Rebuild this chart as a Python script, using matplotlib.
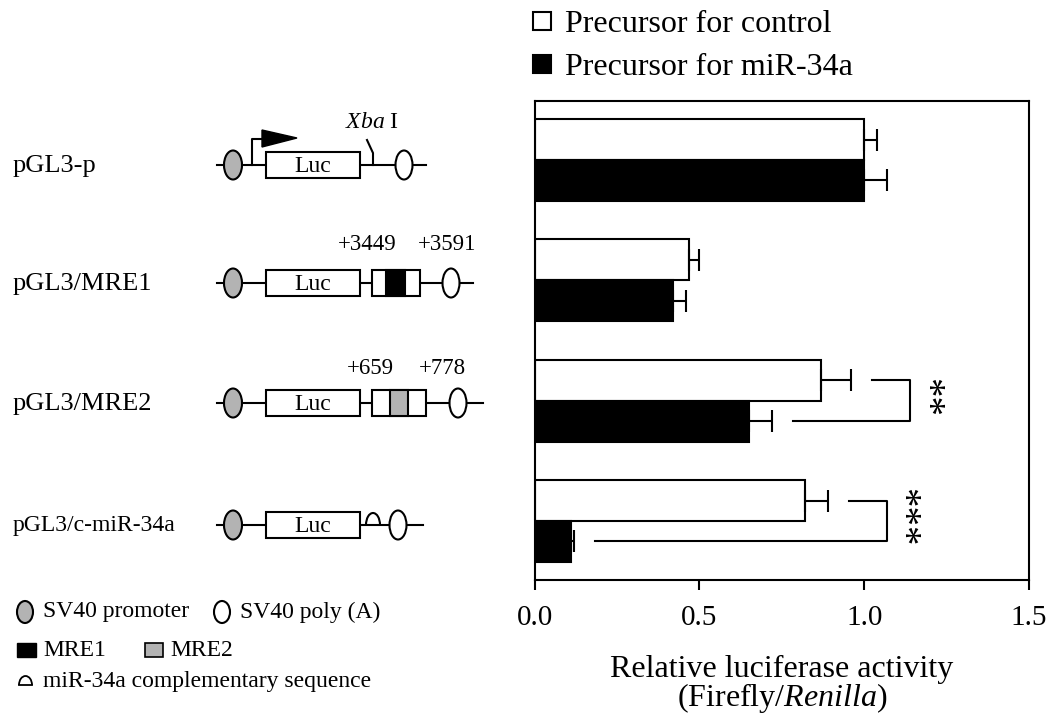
import matplotlib
matplotlib.use("Agg")
import matplotlib.pyplot as plt
from matplotlib.patches import Ellipse, Rectangle, Polygon, Arc
import numpy as np

plt.rcParams["font.family"] = ["Liberation Serif", "DejaVu Serif"]
plt.rcParams["mathtext.fontset"] = "custom"
plt.rcParams["mathtext.rm"] = "Liberation Serif"
plt.rcParams["mathtext.it"] = "Liberation Serif:italic"

# data
constructs = ["pGL3-p", "pGL3/MRE1", "pGL3/MRE2", "pGL3/c-miR-34a"]
series = ["Precursor for control", "Precursor for miR-34a"]
ctrl_mean = [1.00, 0.47, 0.87, 0.82]
ctrl_err = [0.04, 0.03, 0.09, 0.07]
mir_mean = [1.00, 0.42, 0.65, 0.11]
mir_err = [0.07, 0.04, 0.07, 0.01]
xticks = [0.0, 0.5, 1.0, 1.5]
sig_rows = [2, 3]
sig_stars = ["**", "***"]

LW = 1.5
W, H = 1051, 716
fig = plt.figure(figsize=(W / 100, H / 100), dpi=100)

# ---- schematic of the constructs (drawn in pixel coords) ----
dg = fig.add_axes([0, 0, 1, 1])
dg.set_xlim(0, W)
dg.set_ylim(H, 0)
dg.axis("off")

row_y = [165, 283, 403, 525]
line_end = [426, 473, 483, 423]
polya_x = [404, 451, 458, 398]
label_size = [19, 19, 19, 17]


def ellipse(x, y, w, h, fc):
    dg.add_patch(Ellipse((x, y), w, h, fc=fc, ec="black", lw=LW, zorder=3))


def box(x0, x1, y, h, fc="white"):
    dg.add_patch(Rectangle((x0, y - h / 2), x1 - x0, h, fc=fc, ec="black", lw=LW, zorder=3))


for i, name in enumerate(constructs):
    y = row_y[i]
    dg.text(13, y + 1, name, fontsize=label_size[i], va="center", ha="left")
    dg.plot([217, line_end[i]], [y, y], color="black", lw=LW, zorder=2)
    ellipse(233, y, 18, 29, "#b3b3b3")
    ellipse(polya_x[i], y, 17, 29, "white")
    box(266, 360, y, 26)
    dg.text(313, y + 1, "Luc", fontsize=17, ha="center", va="center", zorder=4)

# pGL3-p: promoter arrow and Xba I site
y = row_y[0]
dg.plot([252, 252, 262], [y, 139, 139], color="black", lw=LW, zorder=2)
dg.add_patch(Polygon([(262, 130), (262, 147), (297, 138)], closed=True, fc="black", ec="black", lw=1, zorder=3))
dg.plot([367, 373, 373], [140, 153, y], color="black", lw=LW, zorder=2)
dg.text(372, 123, r"$\mathit{Xba}$ I", fontsize=17, ha="center", va="center")

# MRE1 insert
y = row_y[1]
box(372, 420, y, 26)
box(386, 405, y, 26, fc="black")
dg.text(367, 245, "+3449", fontsize=16.5, ha="center", va="center")
dg.text(447, 245, "+3591", fontsize=16.5, ha="center", va="center")

# MRE2 insert
y = row_y[2]
box(372, 426, y, 26)
box(390, 408, y, 26, fc="#b3b3b3")
dg.text(370, 369, "+659", fontsize=16.5, ha="center", va="center")
dg.text(442, 369, "+778", fontsize=16.5, ha="center", va="center")

# c-miR-34a complementary sequence
y = row_y[3]
dg.add_patch(Arc((373, y), 14, 24, theta1=180, theta2=360, color="black", lw=LW, zorder=3))

# key of the schematic
ellipse(25, 612, 16, 22, "#b3b3b3")
dg.text(43, 612, "SV40 promoter", fontsize=17, va="center")
ellipse(222, 612, 16, 22, "white")
dg.text(240, 612, "SV40 poly (A)", fontsize=17, va="center")
dg.add_patch(Rectangle((17, 643), 19, 14, fc="black", ec="black", lw=1))
dg.text(43, 650, "MRE1", fontsize=17, va="center")
dg.add_patch(Rectangle((145, 643), 18, 14, fc="#b3b3b3", ec="black", lw=1.2))
dg.text(170, 650, "MRE2", fontsize=17, va="center")
dg.add_patch(Arc((25.5, 685), 13, 18, theta1=180, theta2=360, color="black", lw=1.3))
dg.plot([19, 32], [685, 685], color="black", lw=1.3)
dg.text(43, 682, "miR-34a complementary sequence", fontsize=17, va="center")

# ---- bar chart ----
ax = fig.add_axes([534.5 / W, 1 - 580 / H, (1029 - 534.5) / W, (580 - 101) / H])
pos = np.arange(len(constructs))
h = 0.34
zeros = np.zeros(len(pos))

b1 = ax.barh(pos - h / 2, ctrl_mean, height=h, color="white", edgecolor="black", lw=LW, label=series[0])
b2 = ax.barh(pos + h / 2, mir_mean, height=h, color="black", edgecolor="black", lw=LW, label=series[1])
ax.errorbar(ctrl_mean, pos - h / 2, xerr=[zeros, ctrl_err], fmt="none", ecolor="black",
            elinewidth=LW, capsize=8, capthick=LW)
ax.errorbar(mir_mean, pos + h / 2, xerr=[zeros, mir_err], fmt="none", ecolor="black",
            elinewidth=LW, capsize=8, capthick=LW)

# significance brackets, stars stacked vertically
for r, stars in zip(sig_rows, sig_stars):
    top_end = ctrl_mean[r] + ctrl_err[r]
    bot_end = mir_mean[r] + mir_err[r]
    xv = top_end + 0.18
    ax.plot([top_end + 0.065, xv, xv, bot_end + 0.065],
            [r - h / 2, r - h / 2, r + h / 2, r + h / 2], color="black", lw=LW, clip_on=False)
    ax.text(xv + 0.045, r - 0.03, stars, fontsize=28, rotation=270,
            ha="center", va="center", clip_on=False)

ax.set_xlim(0, 1.5)
ax.set_ylim(3.49, -0.49)
ax.set_xticks(xticks)
ax.set_xticklabels([f"{t:.1f}" for t in xticks], fontsize=21)
ax.set_yticks([])
ax.tick_params(axis="x", direction="out", length=7, width=LW, pad=11)
for s in ax.spines.values():
    s.set_linewidth(LW)
ax.set_xlabel("Relative luciferase activity\n(Firefly/$\\mathit{Renilla}$)", fontsize=23,
              labelpad=17, linespacing=0.9)

fig.legend([b1, b2], series, loc="upper left", bbox_to_anchor=(533 / W, 1 - 10 / H),
           frameon=False, fontsize=23, handlelength=0.56, handleheight=0.5,
           handletextpad=0.45, labelspacing=0.45, borderpad=0, borderaxespad=0)

fig.savefig("out.png", dpi=100)
